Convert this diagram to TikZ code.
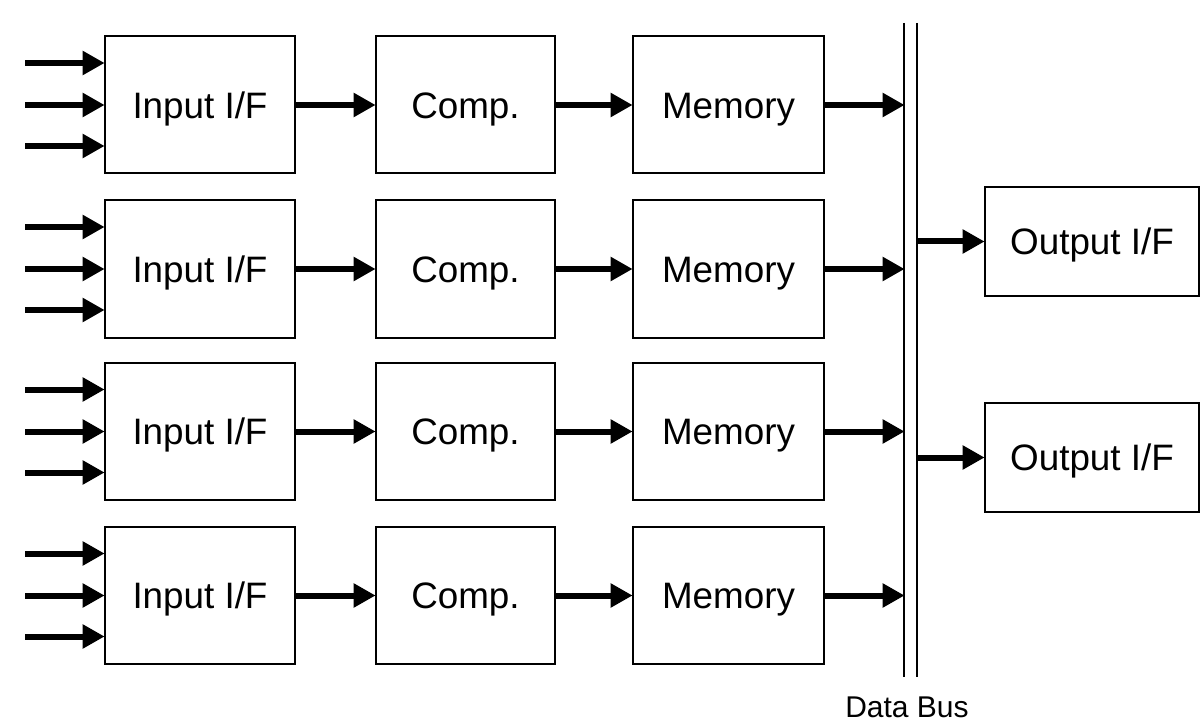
\documentclass[tikz,border=0pt]{standalone}
\usepackage{fontspec}
\setmainfont{Liberation Sans}
\usetikzlibrary{arrows.meta}
\begin{document}
\begin{tikzpicture}[x=0.5pt,y=-0.5pt,
  blk/.style={draw,line width=1pt,inner sep=0pt,anchor=center,minimum height=68.5pt,
    text height=13.2pt,text depth=0pt,
    font=\fontsize{18.4}{22}\selectfont},
  inbox/.style={blk,minimum width=95pt},
  compbox/.style={blk,minimum width=89.5pt},
  membox/.style={blk,minimum width=95.5pt},
  outbox/.style={blk,minimum width=107pt,minimum height=54.5pt},
  arr/.style={line width=3pt,-{Triangle[length=11pt,width=11.5pt]},shorten >=-0.3pt},
  busline/.style={line width=1pt}]
\useasboundingbox (0,0) rectangle (1201,722);
% bus
\coordinate (bLt) at (904,23); \coordinate (bLb) at (904,677);
\coordinate (bRt) at (917,23); \coordinate (bRb) at (917,677);
\draw[busline] (bLt) -- (bLb);
\draw[busline] (bRt) -- (bRb);
\node[anchor=north,font=\fontsize{15}{18}\selectfont,inner sep=0pt] (bus) at (907,696) {Data Bus};
% rows
\foreach \i/\y in {1/105,2/269,3/431.5,4/595.5}{
  \node[inbox] (in\i) at (200,\y) {Input I/F};
  \node[compbox] (cp\i) at (465.5,\y) {Comp.};
  \node[membox] (mm\i) at (728.5,\y) {Memory};
  \coordinate (sa\i) at (25,\y-42);
  \coordinate (sb\i) at (25,\y);
  \coordinate (sc\i) at (25,\y+41);
  \draw[arr] (sa\i) -- (sa\i -| in\i.west);
  \draw[arr] (sb\i) -- (sb\i -| in\i.west);
  \draw[arr] (sc\i) -- (sc\i -| in\i.west);
  \draw[arr] (in\i.east) -- (cp\i.west);
  \draw[arr] (cp\i.east) -- (mm\i.west);
  \draw[arr] (mm\i.east) -- (mm\i.east -| bLt);
}
% outputs
\node[outbox] (out1) at (1092,241.5) {Output I/F};
\node[outbox] (out2) at (1092,457.5) {Output I/F};
\draw[arr] (out1.west -| bRt) -- (out1.west);
\draw[arr] (out2.west -| bRt) -- (out2.west);
\end{tikzpicture}
\end{document}
